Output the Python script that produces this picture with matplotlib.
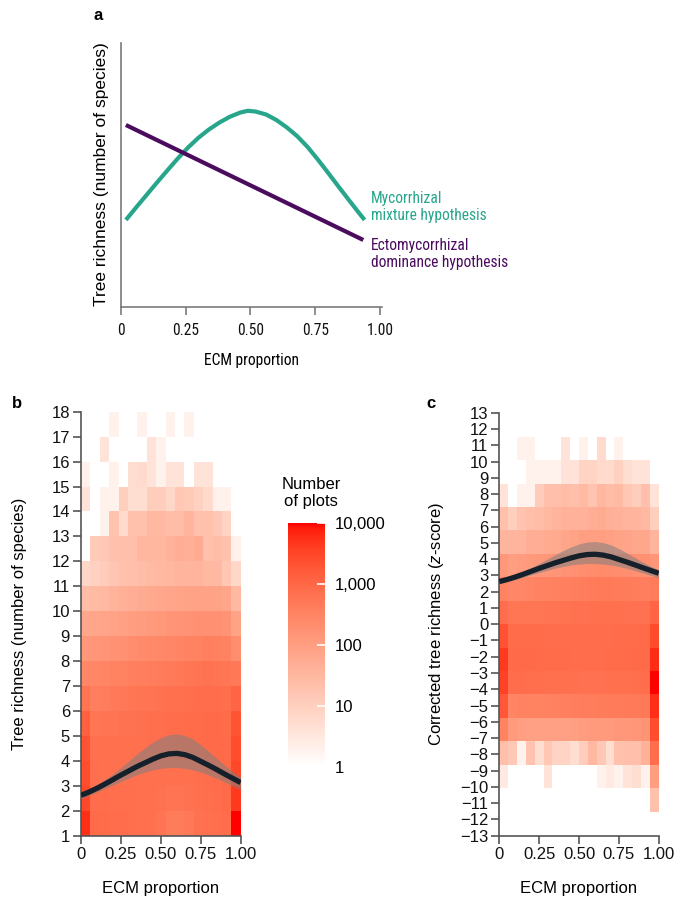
import numpy as np
import matplotlib
matplotlib.use('Agg')
import matplotlib.pyplot as plt
from matplotlib.colors import LogNorm, LinearSegmentedColormap

plt.rcParams['font.family'] = ['Liberation Sans', 'DejaVu Sans']
plt.rcParams['font.size'] = 12
plt.rcParams['mathtext.fontset'] = 'custom'
plt.rcParams['mathtext.it'] = 'Liberation Sans:italic'
plt.rcParams['mathtext.rm'] = 'Liberation Sans'

NARROW = dict(family=['Roboto Condensed', 'DejaVu Sans'], stretch='condensed', fontsize=11.2)

# ---- panel a: conceptual hypotheses ----
mix_x = [0.02, 0.06, 0.10, 0.14, 0.18, 0.22, 0.26, 0.30, 0.34, 0.38, 0.42, 0.46, 0.49,
         0.52, 0.56, 0.60, 0.64, 0.68, 0.72, 0.76, 0.80, 0.84, 0.88, 0.91, 0.94]
mix_y = [0.329, 0.377, 0.424, 0.471, 0.517, 0.562, 0.604, 0.641, 0.672, 0.698, 0.720, 0.736, 0.743,
         0.740, 0.729, 0.708, 0.680, 0.647, 0.606, 0.558, 0.507, 0.455, 0.404, 0.366, 0.329]
dom_x = [0.02, 0.935]
dom_y = [0.689, 0.253]

# ---- panel b: number of plots per (ECM bin, richness) ----
# rows: richness 1..17 (bottom to top), columns: 17 ECM bins from 0 to 1
counts_b = [
    [5500, 900, 850, 800, 800, 750, 700, 700, 600, 450, 450, 500, 650, 700, 750, 800, 10000],
    [3000, 800, 800, 750, 750, 750, 700, 700, 650, 600, 600, 650, 700, 750, 800, 900, 4500],
    [2500, 750, 700, 700, 700, 700, 700, 700, 700, 700, 700, 700, 750, 800, 850, 900, 3000],
    [2000, 700, 700, 700, 700, 700, 700, 750, 750, 750, 800, 800, 850, 900, 900, 900, 2500],
    [1300, 550, 600, 600, 650, 650, 700, 750, 750, 800, 800, 850, 850, 900, 900, 850, 2000],
    [600, 400, 420, 480, 520, 560, 600, 620, 650, 700, 720, 750, 780, 800, 800, 750, 1100],
    [280, 280, 300, 320, 350, 380, 400, 430, 450, 480, 500, 550, 600, 650, 620, 550, 500],
    [130, 140, 150, 170, 190, 210, 230, 250, 260, 280, 300, 330, 350, 380, 360, 320, 200],
    [65, 70, 75, 85, 95, 105, 115, 125, 135, 150, 160, 170, 180, 190, 180, 160, 80],
    [25, 28, 30, 38, 45, 50, 55, 60, 65, 70, 75, 80, 85, 85, 80, 70, 30],
    [7, 9, 12, 16, 20, 22, 25, 28, 30, 32, 35, 35, 35, 30, 30, 15, 7],
    [0, 13, 14, 20, 22, 22, 32, 32, 32, 40, 50, 45, 55, 20, 25, 20, 2],
    [0, 0, 2, 18, 6, 20, 20, 30, 30, 25, 25, 35, 20, 20, 14, 8, 0],
    [4, 0, 2, 2, 10, 5, 5, 11, 11, 7, 15, 13, 9, 6, 2, 2, 0],
    [2, 0, 0, 2, 0, 5, 6, 4, 2, 4, 4, 0, 4, 4, 0, 0, 0],
    [0, 0, 4, 0, 0, 0, 0, 4, 2, 0, 0, 0, 0, 0, 0, 0, 0],
    [0, 0, 0, 2, 0, 0, 2, 0, 0, 2, 0, 2, 0, 0, 0, 0, 0],
]
rich_edges_b = np.arange(1, 19)

# ---- panel c: corrected richness, 16 bins of width 1.44, 18 ECM bins ----
counts_c = [
    [0, 0, 0, 0, 0, 0, 0, 0, 0, 0, 0, 0, 0, 0, 0, 0, 0, 20],
    [3, 0, 0, 0, 0, 4, 0, 0, 0, 0, 0, 2, 3, 2, 4, 5, 2, 100],
    [22, 14, 2, 18, 5, 15, 8, 8, 5, 11, 30, 15, 5, 20, 22, 22, 40, 800],
    [350, 120, 100, 90, 90, 90, 95, 95, 100, 110, 120, 120, 120, 130, 130, 140, 160, 2500],
    [1800, 300, 320, 330, 340, 350, 360, 380, 400, 420, 430, 440, 450, 460, 470, 480, 500, 5500],
    [3500, 800, 780, 760, 740, 720, 700, 700, 700, 680, 680, 680, 700, 700, 720, 750, 780, 10000],
    [4500, 900, 900, 880, 860, 850, 840, 820, 800, 800, 800, 800, 820, 840, 860, 880, 900, 6000],
    [2200, 850, 850, 840, 820, 800, 800, 800, 800, 800, 800, 800, 800, 820, 840, 860, 900, 2800],
    [800, 550, 560, 570, 580, 600, 620, 640, 660, 680, 700, 700, 700, 700, 680, 660, 650, 1100],
    [320, 280, 290, 300, 320, 340, 360, 380, 400, 430, 460, 480, 480, 460, 440, 420, 400, 450],
    [130, 100, 110, 120, 130, 140, 150, 170, 190, 210, 220, 230, 220, 210, 200, 190, 180, 140],
    [35, 35, 35, 50, 50, 55, 60, 70, 80, 100, 100, 100, 90, 80, 75, 65, 65, 35],
    [20, 10, 18, 22, 25, 30, 35, 40, 40, 42, 50, 55, 45, 42, 35, 35, 30, 10],
    [4, 0, 2, 2, 12, 22, 22, 25, 22, 28, 18, 32, 25, 28, 15, 11, 22, 4],
    [0, 0, 0, 2, 2, 2, 2, 4, 4, 8, 8, 6, 6, 9, 5, 4, 4, 0],
    [0, 0, 2, 2, 0, 0, 0, 4, 0, 2, 0, 6, 0, 2, 0, 0, 0, 0],
]
z_edges_c = np.arange(-8, 9) * 1.44

# ---- fitted relationship with confidence band (same in b and c) ----
fit_x = [0, 0.05, 0.1, 0.15, 0.2, 0.25, 0.3, 0.35, 0.4, 0.45, 0.5,
         0.55, 0.6, 0.65, 0.7, 0.75, 0.8, 0.85, 0.9, 0.95, 1.0]
fit_y = [2.62, 2.75, 2.9, 3.07, 3.25, 3.43, 3.6, 3.77, 3.92, 4.07, 4.2,
         4.28, 4.3, 4.25, 4.14, 3.98, 3.82, 3.65, 3.47, 3.3, 3.13]
fit_hi = [2.77, 2.9, 3.05, 3.25, 3.48, 3.73, 4.0, 4.27, 4.52, 4.75, 4.93,
          5.05, 5.08, 5.02, 4.88, 4.65, 4.38, 4.1, 3.82, 3.57, 3.35]
fit_lo = [2.48, 2.61, 2.75, 2.89, 3.03, 3.17, 3.31, 3.44, 3.55, 3.64, 3.7,
          3.73, 3.73, 3.7, 3.64, 3.55, 3.43, 3.3, 3.15, 3.0, 2.85]

ecm_ticks = [0, 0.25, 0.5, 0.75, 1.0]
ecm_labels = ['0', '0.25', '0.50', '0.75', '1.00']
cbar_ticks = [1, 10, 100, 1000, 10000]
cbar_labels = ['1', '10', '100', '1,000', '10,000']

GREEN = '#27a68b'
PURPLE = '#4b0b5f'
W, H = 678, 899


def white_to_red():
    # white -> red, interpolated in CIE Lab
    t = np.linspace(0, 1, 256)[:, None]
    lab = (1 - t) * np.array([100.0, 0.0, 0.0]) + t * np.array([53.24, 80.09, 67.20])
    L, a, b = lab.T
    fy = (L + 16) / 116
    f = np.stack([fy + a / 500, fy, fy - b / 200])
    d = 6 / 29
    xyz = np.where(f > d, f ** 3, 3 * d * d * (f - 4 / 29)) * np.array([0.95047, 1.0, 1.08883])[:, None]
    m = np.array([[3.2406, -1.5372, -0.4986], [-0.9689, 1.8758, 0.0415], [0.0557, -0.2040, 1.0570]])
    rgb = np.clip(m @ xyz, 0, 1)
    rgb = np.where(rgb <= 0.0031308, 12.92 * rgb, 1.055 * rgb ** (1 / 2.4) - 0.055)
    return LinearSegmentedColormap.from_list('white_red', np.clip(rgb.T, 0, 1))


def px_axes(left, top, right, bottom):
    return fig.add_axes([left / W, 1 - bottom / H, (right - left) / W, (bottom - top) / H])


def style(ax, col='#555555'):
    for s in ['top', 'right']:
        ax.spines[s].set_visible(False)
    for s in ['left', 'bottom']:
        ax.spines[s].set_color(col)
        ax.spines[s].set_linewidth(1.2)
    ax.tick_params(length=6, width=1.2, color=col, labelsize=12, pad=2, labelcolor='#111111')


cmap = white_to_red()
norm = LogNorm(vmin=1, vmax=10000)

fig = plt.figure(figsize=(W / 100, H / 100), dpi=100)

# ---------------- panel a ----------------
ax_a = px_axes(120.7, 43, 381.7, 306.7)
ax_a.set_xlim(0, 1.006)
ax_a.set_ylim(0, 1)
ax_a.plot(mix_x, mix_y, color=GREEN, lw=3.0, solid_capstyle='butt', solid_joinstyle='round')
ax_a.plot(dom_x, dom_y, color=PURPLE, lw=3.0, solid_capstyle='butt')
style(ax_a, '#7a7a7a')
ax_a.set_yticks([])
ax_a.set_xticks(ecm_ticks)
ax_a.set_xticklabels(ecm_labels)
for lab in ax_a.get_xticklabels():
    lab.set_fontfamily(NARROW['family'])
    lab.set_fontstretch(NARROW['stretch'])
    lab.set_fontsize(NARROW['fontsize'])
ax_a.tick_params(axis='x', pad=6)
ax_a.text(0.965, 0.378, 'Mycorrhizal\nmixture hypothesis', color=GREEN,
          ha='left', va='center', linespacing=1.2, **NARROW)
ax_a.text(0.965, 0.2, 'Ectomycorrhizal\ndominance hypothesis', color=PURPLE,
          ha='left', va='center', linespacing=1.2, **NARROW)
fig.text(101.7 / W, 1 - 174 / H, 'Tree richness (number of species)', rotation=90,
         ha='center', va='center', fontsize=12.5)
fig.text(251 / W, 1 - 360 / H, 'ECM proportion', ha='center', va='center', **NARROW)
fig.text(98 / W, 1 - 16 / H, 'a', fontweight='bold', fontsize=12, ha='center', va='center')

# ---------------- panel b ----------------
ax_b = px_axes(81, 411.7, 240.7, 835.7)
mesh_b = ax_b.pcolormesh(np.linspace(0, 1, len(counts_b[0]) + 1), rich_edges_b,
                         np.ma.masked_less(np.array(counts_b, float), 1), cmap=cmap, norm=norm)
ax_b.fill_between(fit_x, fit_lo, fit_hi, color='#7f7f7f', alpha=0.55, lw=0, zorder=3)
ax_b.plot(fit_x, fit_y, color='#16202a', lw=3.8, zorder=4, solid_capstyle='butt')
ax_b.set_xlim(0, 1)
ax_b.set_ylim(1, 18)
ax_b.set_yticks(range(1, 19))
ax_b.set_xticks(ecm_ticks)
ax_b.set_xticklabels(ecm_labels)
style(ax_b)
fig.text(20 / W, 1 - 624 / H, 'Tree richness (number of species)', rotation=90,
         ha='center', va='center', fontsize=12)
fig.text(161 / W, 1 - 889 / H, 'ECM proportion', ha='center', va='center', fontsize=12)
fig.text(17 / W, 1 - 404 / H, 'b', fontweight='bold', fontsize=12, ha='center', va='center')

# ---------------- panel c ----------------
ax_c = px_axes(499.3, 412.7, 658.7, 835.7)
ax_c.pcolormesh(np.linspace(0, 1, len(counts_c[0]) + 1), z_edges_c,
                np.ma.masked_less(np.array(counts_c, float), 1), cmap=cmap, norm=norm)
ax_c.fill_between(fit_x, fit_lo, fit_hi, color='#7f7f7f', alpha=0.55, lw=0, zorder=3)
ax_c.plot(fit_x, fit_y, color='#16202a', lw=3.8, zorder=4, solid_capstyle='butt')
ax_c.set_xlim(0, 1)
ax_c.set_ylim(-13, 13)
ax_c.set_yticks(range(-13, 14))
ax_c.set_xticks(ecm_ticks)
ax_c.set_xticklabels(ecm_labels)
style(ax_c)
fig.text(437 / W, 1 - 624 / H, 'Corrected tree richness ($z$-score)', rotation=90,
         ha='center', va='center', fontsize=12)
fig.text(579 / W, 1 - 889 / H, 'ECM proportion', ha='center', va='center', fontsize=12)
fig.text(431 / W, 1 - 404 / H, 'c', fontweight='bold', fontsize=12, ha='center', va='center')

# ---------------- colour bar ----------------
cax = px_axes(287.7, 522.7, 324.7, 766.7)
cb = fig.colorbar(mesh_b, cax=cax, ticks=cbar_ticks)
cb.set_ticklabels(cbar_labels)
cb.outline.set_visible(False)
cax.minorticks_off()
cax.tick_params(direction='in', color='white', length=6, width=1.2, labelsize=12, pad=7)
fig.text(311 / W, 1 - 493 / H, 'Number\nof plots', ha='center', va='center', fontsize=12,
         linespacing=1.15)

fig.savefig('out.png', dpi=100)
